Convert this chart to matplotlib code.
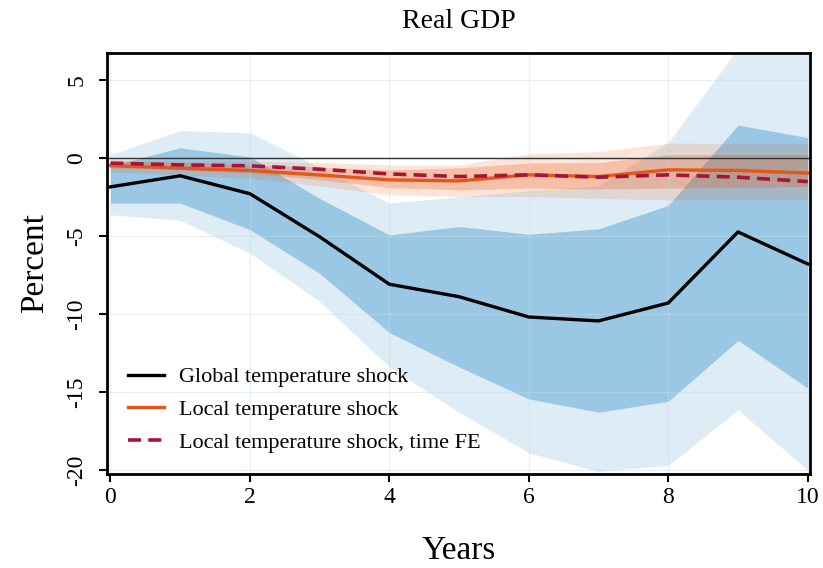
import numpy as np
import matplotlib.pyplot as plt

plt.rcParams["font.family"] = ["Liberation Serif", "DejaVu Serif"]
plt.rcParams["axes.unicode_minus"] = False

years = np.arange(0, 11)

# global temperature shock: point estimate and bands
glob = [-1.86, -1.15, -2.3, -5.06, -8.1, -8.9, -10.2, -10.45, -9.3, -4.75, -6.8]
glob_lo68 = [-2.9, -2.9, -4.6, -7.4, -11.2, -13.4, -15.45, -16.3, -15.6, -11.7, -14.75]
glob_hi68 = [-0.5, 0.64, 0.06, -2.6, -4.94, -4.4, -4.9, -4.55, -3.05, 2.1, 1.3]
glob_lo95 = [-3.65, -4.0, -6.1, -9.2, -13.4, -16.3, -18.9, -20.1, -19.7, -16.15, -20.0]
glob_hi95 = [0.2, 1.75, 1.6, -0.6, -2.9, -2.5, -2.1, -1.8, 1.0, 7.0, 8.0]

# local temperature shock
local = [-0.5, -0.66, -0.81, -1.1, -1.41, -1.48, -1.09, -1.2, -0.77, -0.81, -0.98]
local_lo68 = [-0.64, -0.77, -0.96, -1.4, -1.9, -2.05, -1.94, -2.0, -1.94, -1.9, -1.84]
local_hi68 = [-0.2, -0.3, -0.45, -0.6, -0.77, -0.64, -0.33, -0.3, 0.2, 0.2, 0.2]
local_lo95 = [-0.9, -1.1, -1.3, -1.8, -2.37, -2.48, -2.48, -2.6, -2.7, -2.7, -2.7]
local_hi95 = [-0.1, -0.2, -0.2, -0.3, -0.45, -0.45, 0.26, 0.4, 0.95, 0.9, 0.9]

# local temperature shock, time FE
local_fe = [-0.34, -0.45, -0.51, -0.73, -1.03, -1.2, -1.09, -1.24, -1.09, -1.24, -1.52]

fig = plt.figure(figsize=(8.23, 5.68), dpi=100)
ax = fig.add_axes([0.130, 0.1655, 0.854, 0.7415])

ax.fill_between(years, glob_lo95, glob_hi95, color="#deecf6", lw=0, zorder=1)
ax.fill_between(years, glob_lo68, glob_hi68, color="#99c7e4", lw=0, zorder=1)
ax.fill_between(years, local_lo95, local_hi95, color="#e6550d", alpha=0.15, lw=0, zorder=1)
ax.fill_between(years, local_lo68, local_hi68, color="#e6550d", alpha=0.25, lw=0, zorder=1)

ax.axhline(0, color="#333333", lw=1.0, zorder=3)

ax.plot(years, glob, color="black", lw=2.4, label="Global temperature shock", zorder=4)
ax.plot(years, local, color="#e2571a", lw=2.4, label="Local temperature shock", zorder=4)
ax.plot(years, local_fe, color="#a8133a", lw=2.6, ls=(0, (3.6, 2.0)),
        label="Local temperature shock, time FE", zorder=4)

ax.set_xlim(-0.05, 10.03)
ax.set_ylim(-20.26, 6.73)
ax.set_xticks([0, 2, 4, 6, 8, 10])
ax.set_yticks([5, 0, -5, -10, -15, -20])
ax.grid(True, color="#c9dce6", lw=0.8, alpha=0.45, zorder=2)
ax.set_axisbelow(False)
for s in ax.spines.values():
    s.set_linewidth(2.0)
    s.set_zorder(5)
ax.tick_params(axis="both", labelsize=17, width=1.5, length=6)
ax.tick_params(axis="y", pad=8)
for lab in ax.get_yticklabels():
    lab.set_rotation(90)
    lab.set_va("center")

ax.set_title("Real GDP", fontsize=20, pad=18)
ax.set_xlabel("Years", fontsize=24, labelpad=20)
ax.set_ylabel("Percent", fontsize=24, labelpad=12)

ax.legend(loc="lower left", frameon=False, fontsize=16, handlelength=1.6,
          handletextpad=0.7, labelspacing=0.55, borderaxespad=0.55)

plt.savefig("out.png", dpi=100)
